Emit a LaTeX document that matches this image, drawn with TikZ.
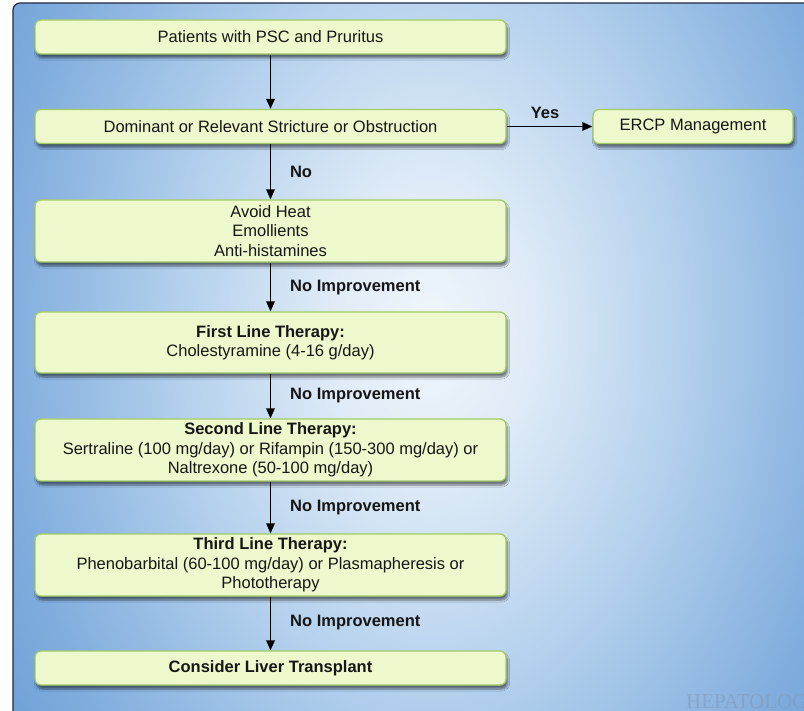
\documentclass[tikz,border=0pt]{standalone}
\usepackage{fontspec}
\setmainfont{Liberation Sans}
\newfontfamily\markfont{Liberation Serif}
\usetikzlibrary{arrows.meta,shadows,shadows.blur}

\definecolor{boxfill}{HTML}{EEF8CD}
\definecolor{boxline}{HTML}{A2CB68}
\definecolor{panelline}{HTML}{1E2B45}
\definecolor{inkcol}{HTML}{161616}
\definecolor{markcol}{HTML}{8399B4}
\definecolor{glowA}{HTML}{F0F6FB}
\definecolor{glowB}{HTML}{DFEBF7}
\definecolor{glowC}{HTML}{B3D0ED}
\definecolor{glowD}{HTML}{82AEDE}
\definecolor{glowE}{HTML}{5690CE}
\definecolor{glowF}{HTML}{3E7BC1}
\definecolor{glowG}{HTML}{306CB4}

% light centre fading out to blue at the rim
\pgfdeclareradialshading{panelglow}{\pgfpoint{0bp}{0bp}}{%
  color(0bp)=(glowA); color(6bp)=(glowB); color(15bp)=(glowC);
  color(25bp)=(glowD); color(36bp)=(glowE); color(46bp)=(glowF);
  color(65bp)=(glowG)}

\tikzset{
  stepbox/.style={draw=boxline, line width=1.3pt, fill=boxfill,
    rounded corners=6pt, minimum width=471pt, align=center,
    text=inkcol, font=\fontsize{16.5}{19.5}\selectfont, inner sep=2pt,
    blur shadow={shadow xshift=1.5pt, shadow yshift=-4pt,
      shadow opacity=50, shadow blur steps=6}},
  flow/.style={draw=black, line width=1.7pt,
    -{Triangle[length=10pt,width=8.5pt]}},
  tag/.style={text=inkcol, font=\fontsize{16.5}{19.5}\selectfont\bfseries,
    inner sep=0pt}
}

\begin{document}
\begin{tikzpicture}[x=1pt,y=-1pt]
  \useasboundingbox (0,0) rectangle (804,711);
  \fill[white] (0,0) rectangle (804,711);

  % blue backdrop panel
  \begin{scope}
    \clip[rounded corners=7pt] (13,3) rectangle (840,760);
    \shade[shading=panelglow] (10,-280) rectangle (850,940);
  \end{scope}
  \draw[panelline, line width=1.2pt, rounded corners=7pt]
    (13,3) rectangle (840,760);

  % faint publisher mark
  \node[anchor=base west, inner sep=0pt, text=markcol, opacity=0.6,
        font=\markfont\fontsize{21}{21}\selectfont] (mark)
    at (686,708) {HEPATOLOGY};

  % flowchart boxes
  \node[stepbox, minimum height=34pt] (b1) at (270.5,37)
    {Patients with PSC and Pruritus};
  \node[stepbox, minimum height=34pt] (b2) at (270.5,126.5)
    {Dominant or Relevant Stricture or Obstruction};
  \node[stepbox, minimum width=200pt, minimum height=34pt] (ercp) at (693,126.5)
    {ERCP Management};
  \node[stepbox, minimum height=62pt] (b3) at (270.5,231)
    {Avoid Heat\\Emollients\\Anti-histamines};
  \node[stepbox, minimum height=61pt] (b4) at (270.5,342.5)
    {\textbf{First Line Therapy:}\\Cholestyramine (4-16 g/day)};
  \node[stepbox, minimum height=62pt] (b5) at (270.5,450)
    {\textbf{Second Line Therapy:}\\Sertraline (100 mg/day) or Rifampin (150-300 mg/day) or\\Naltrexone (50-100 mg/day)};
  \node[stepbox, minimum height=62pt] (b6) at (270.5,565)
    {\textbf{Third Line Therapy:}\\Phenobarbital (60-100 mg/day) or Plasmapheresis or\\Phototherapy};
  \node[stepbox, minimum height=34pt] (b7) at (270.5,668)
    {\textbf{Consider Liver Transplant}};

  % connectors
  \draw[flow] (b1) -- (b2);
  \draw[flow] (b2) -- (ercp);
  \draw[flow] (b2) -- (b3);
  \draw[flow] (b3) -- (b4);
  \draw[flow] (b4) -- (b5);
  \draw[flow] (b5) -- (b6);
  \draw[flow] (b6) -- (b7);

  % branch labels
  \node[tag] (yes) at (545,113) {Yes};
  \node[tag] (no) at (301,172) {No};
  \node[tag, anchor=west] (ni1) at (290,288) {No Improvement};
  \node[tag, anchor=west] (ni2) at (290,396) {No Improvement};
  \node[tag, anchor=west] (ni3) at (290,508) {No Improvement};
  \node[tag, anchor=west] (ni4) at (290,623) {No Improvement};
\end{tikzpicture}
\end{document}
